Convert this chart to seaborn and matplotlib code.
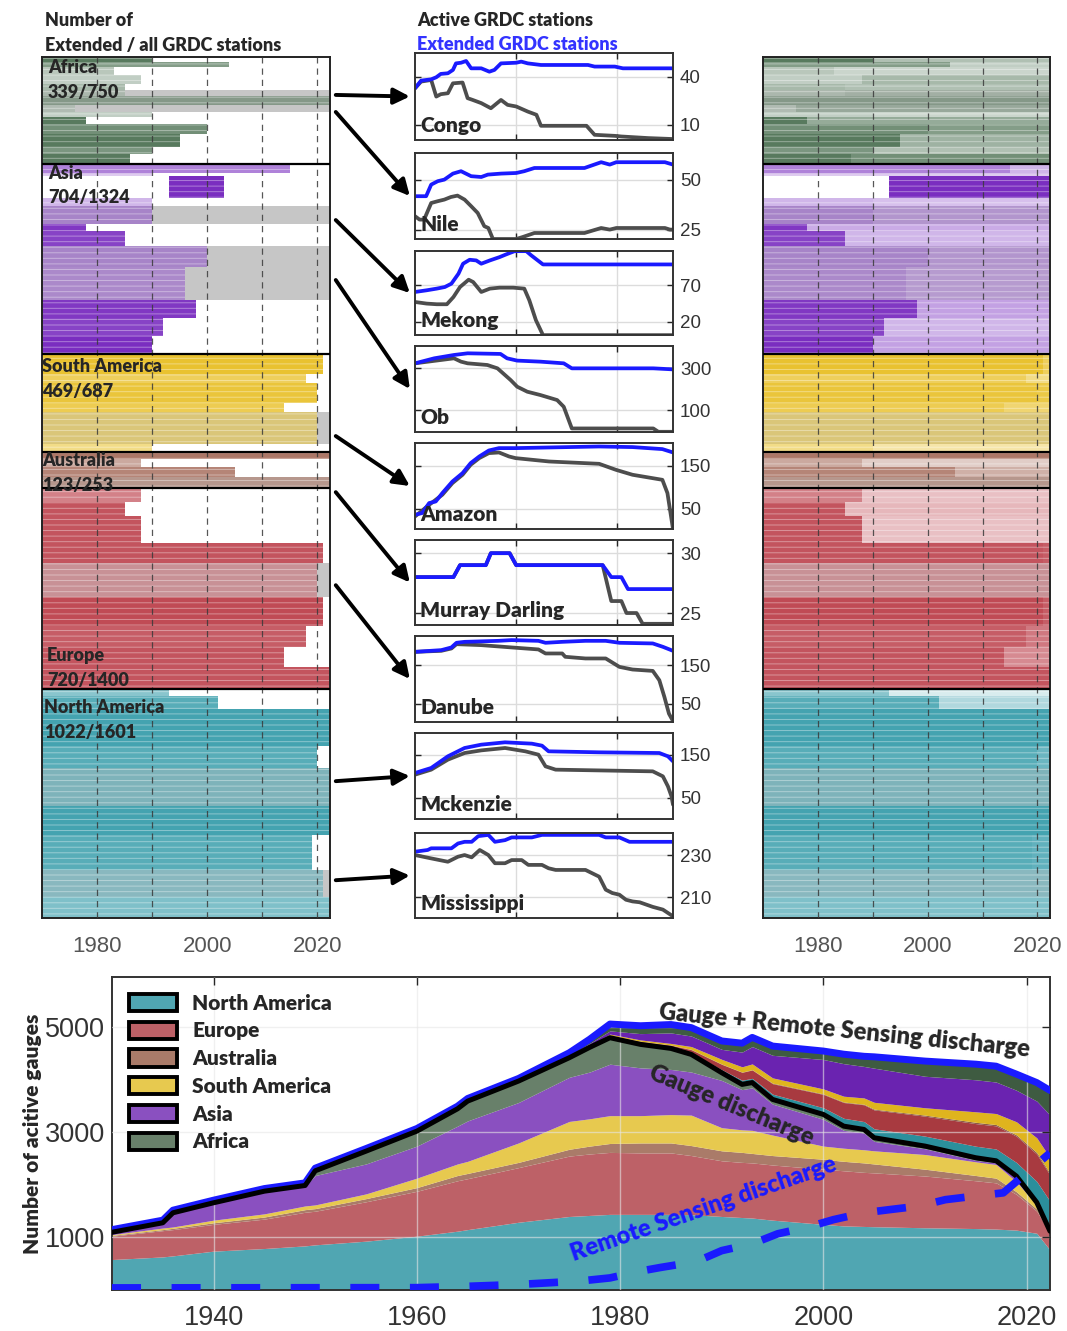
import numpy as np
import pandas as pd
import seaborn as sns
import matplotlib.pyplot as plt
from matplotlib.colors import to_rgb
from matplotlib.patches import Patch, ConnectionPatch

sns.set_theme(style="white")
plt.rcParams["font.family"] = ["Lato", "DejaVu Sans"]
plt.rcParams["hatch.linewidth"] = 0.7
TICKFONT = "Liberation Sans"
BOLD = "heavy"

# ---------------- data: bottom panel (number of active gauges) ----------------
YEARS = [1930, 1935, 1936, 1940, 1945, 1949, 1950, 1955, 1960, 1964, 1965, 1970,
         1975, 1977, 1979, 1982, 1985, 1987, 1990, 1992, 1993, 1995, 2000, 2002,
         2004, 2005, 2010, 2015, 2017, 2019, 2021, 2022.3]
CONTINENTS = ["North America", "Europe", "Australia", "South America", "Asia", "Africa"]

na_gauge = [580, 630, 650, 740, 790, 840, 860, 930, 1025, 1120, 1150, 1290, 1400, 1420, 1440, 1440,
            1440, 1435, 1400, 1380, 1370, 1330, 1250, 1220, 1210, 1205, 1185, 1170, 1160, 1140, 1080, 760]
eu_gauge = [445, 500, 500, 510, 560, 640, 640, 750, 855, 960, 970, 1040, 1150, 1170, 1180, 1170,
            1170, 1125, 1060, 1050, 1050, 1050, 1050, 1050, 1030, 1025, 985, 910, 880, 680, 420, 330]
au_gauge = [15, 20, 25, 30, 40, 50, 50, 60, 70, 100, 100, 100, 130, 150, 170, 190,
            190, 190, 190, 190, 180, 180, 190, 180, 180, 170, 130, 100, 90, 50, 40, 10]
sa_gauge = [15, 30, 25, 50, 60, 70, 70, 90, 180, 220, 230, 370, 530, 520, 530, 520,
            540, 580, 440, 430, 440, 390, 250, 250, 250, 250, 280, 260, 260, 190, 80, 10]
as_gauge = [35, 90, 260, 320, 420, 380, 560, 570, 610, 720, 770, 770, 840, 890, 980, 910,
            860, 820, 900, 765, 810, 590, 510, 340, 320, 180, 110, 30, 30, 70, 30, 5]
af_gauge = [10, 10, 10, 11, 12, 10, 90, 244, 285, 330, 377, 408, 373, 470, 504, 447,
            400, 336, 147, 100, 100, 89, 93, 80, 67, 69, 50, 48, 40, 38, 17, 5]

na_ext = [0, 0, 0, 0, 0, 0, 0, 0, 0, 0, 0, 0, 5, 10, 15, 20,
          20, 30, 60, 80, 80, 100, 127, 150, 150, 170, 190, 220, 225, 260, 400, 570]
eu_ext = [0, 0, 0, 0, 0, 0, 0, 0, 0, 0, 0, 0, 10, 15, 30, 35,
          40, 60, 100, 150, 160, 200, 254, 300, 320, 360, 380, 430, 440, 500, 520, 500]
au_ext = [0, 0, 0, 0, 0, 0, 0, 0, 0, 0, 0, 0, 0, 0, 5, 5,
          5, 5, 5, 5, 5, 10, 10, 10, 10, 15, 20, 25, 25, 25, 30, 30]
sa_ext = [0, 0, 0, 0, 0, 0, 0, 0, 0, 0, 0, 0, 10, 10, 20, 25,
          30, 55, 90, 100, 110, 100, 95, 110, 120, 130, 140, 200, 210, 250, 280, 300]
as_ext = [10, 10, 10, 10, 10, 10, 10, 10, 10, 10, 10, 10, 20, 40, 60, 120,
          200, 200, 190, 280, 330, 430, 560, 620, 600, 650, 600, 610, 600, 600, 700, 810]
af_ext = [40, 40, 40, 40, 40, 40, 40, 40, 40, 40, 40, 40, 50, 80, 130, 150,
          160, 160, 160, 170, 175, 176, 161, 180, 193, 216, 289, 297, 302, 307, 353, 470]

RS_YEARS = [1930, 1960, 1965, 1970, 1976, 1979, 1982, 1984, 1987.5, 1990, 1993, 1995.5,
            1998.5, 2001, 2004, 2006.5, 2009.5, 2012, 2015, 2017.7, 2020, 2022.3]
RS_COUNT = [40, 45, 70, 105, 170, 230, 360, 430, 540, 750, 880, 1070,
            1200, 1340, 1470, 1530, 1600, 1720, 1790, 1850, 2230, 2610]

# ---------------- data: station rasters (bands of stations) ----------------
N_EXTENDED = [339, 704, 469, 123, 720, 1022]
N_ALL = [750, 1324, 687, 253, 1400, 1601]
RASTER_ORDER = ["Africa", "Asia", "South America", "Australia", "Europe", "North America"]

africa_n = [35, 35, 59, 58, 47, 35, 63, 54, 35, 47, 70, 94, 47, 71]
africa_start = [1970] * 14
africa_end = [1990, 2004, 1983, 1988, 1985, 1985, 2022.3, 1976, 1990, 1978, 2000, 1995, 1990, 1986]
africa_tone = [0.95, 0.7, 0.4, 0.35, 0.5, 0.6, 1.0, 0.55, 0.35, 0.95, 0.8, 0.95, 0.75, 0.95]
africa_ext = [0.45, 0.35, 0.3, 0.5, 0.45, 0.7, 1.0, 0.8, 0.3, 0.6, 0.7, 0.55, 0.45, 0.8]
africa_grey = [0, 0, 0, 0, 0, 1, 1, 1, 0, 0, 0, 0, 0, 0]

asia_n = [58, 23, 151, 58, 128, 46, 104, 150, 232, 120, 130, 124]
asia_start = [1970, 1970, 1993, 1970, 1970, 1970, 1970, 1970, 1970, 1970, 1970, 1970]
asia_end = [2015, 1990, 2003, 1990, 1990, 1978, 1985, 2000, 1996, 1998, 1992, 1990]
asia_tone = [0.6, 0.3, 1.0, 0.35, 0.85, 0.95, 0.9, 0.85, 0.8, 0.95, 0.9, 1.0]
asia_ext = [0.35, 0.3, 1.0, 0.3, 0.7, 0.4, 0.35, 0.7, 0.65, 0.45, 0.35, 0.45]
asia_grey = [0, 0, 0, 0, 1, 0, 0, 1, 1, 0, 0, 0]

samer_n = [140, 60, 140, 63, 225, 59]
samer_start = [1970] * 6
samer_end = [2021, 2018, 2020, 2014, 2020, 1990]
samer_tone = [0.95, 0.75, 0.9, 0.8, 0.9, 0.55]
samer_ext = [0.75, 0.55, 0.85, 0.65, 0.9, 0.4]
samer_grey = [0, 0, 0, 0, 1, 0]

austr_n = [50, 51, 71, 81]
austr_start = [1970] * 4
austr_end = [2022.3, 1988, 2005, 2022.3]
austr_tone = [0.95, 0.6, 0.85, 1.0]
austr_ext = [0.9, 0.35, 0.55, 1.0]
austr_grey = [0, 0, 0, 1]

europe_n = [95, 95, 189, 142, 237, 200, 150, 142, 150]
europe_start = [1970] * 9
europe_end = [1988, 1985, 1988, 2021, 2020, 2021, 2018, 2014, 2022.3]
europe_tone = [0.7, 0.95, 0.95, 0.95, 0.85, 1.0, 0.9, 0.95, 0.95]
europe_ext = [0.35, 0.4, 0.35, 0.9, 0.85, 0.9, 0.75, 0.65, 0.9]
europe_grey = [0, 0, 0, 0, 1, 0, 0, 0, 0]

namer_n = [47, 94, 257, 152, 269, 200, 245, 188, 149]
namer_start = [1970] * 9
namer_end = [1993, 2002, 2022.3, 2020, 2022.3, 2022.3, 2019, 2021, 2022.3]
namer_tone = [0.6, 0.85, 0.95, 0.85, 0.95, 0.95, 0.85, 0.85, 0.65]
namer_ext = [0.2, 0.4, 0.95, 0.75, 0.95, 0.95, 0.8, 0.85, 0.65]
namer_grey = [0, 0, 0, 0, 1, 0, 0, 1, 0]

# ---------------- data: basins (active vs extended stations) ----------------
BASINS = ["Congo", "Nile", "Mekong", "Ob", "Amazon", "Murray Darling", "Danube", "Mckenzie", "Mississippi"]
BASIN_ROWS = [265, 384, 1139, 1558, 2648, 3040, 3690, 5059, 5751]
BASIN_TICKS = [[40, 10], [50, 25], [70, 20], [300, 100], [150, 50], [30, 25], [150, 50], [150, 50], [230, 210]]

congo_yr_ext = [1970, 1971.2, 1973.2, 1974.2, 1975.1, 1976.5, 1977.5, 1978.1, 1979.1, 1980.1, 1981.1, 1983.1,
                1984.7, 1985.7, 1987, 1990, 1991, 1992.3, 1994.9, 2004.2, 2005.5, 2009.5, 2011.1, 2021]
congo_ext = [32.9, 37.7, 38.5, 39.8, 41.9, 42.3, 44.4, 48.5, 48.9, 50, 45.4, 45.4,
             43.3, 44.4, 48.5, 48.9, 49.6, 48.5, 47.5, 47.5, 46.5, 46.5, 45.4, 45.4]
congo_yr_act = [1970, 1971.2, 1973.2, 1974.2, 1975.1, 1976.5, 1977.5, 1979.4, 1980.4, 1981.4, 1983.1, 1985,
                1987, 1988.3, 1990, 1992.3, 1994, 1994.9, 2003.9, 2005.5, 2009.5, 2010.8, 2016.1, 2021]
congo_act = [32.9, 37.1, 38.1, 27.7, 29.2, 29.8, 36, 36.5, 26.7, 25.6, 23.6, 20.4,
             25.6, 22.5, 21.5, 18.3, 16.3, 9.4, 9.4, 3.75, 3.1, 2.7, 1.7, 1.1]

nile_yr_ext = [1970, 1972.2, 1973.2, 1974.5, 1975.8, 1977.5, 1979.1, 1981.1, 1983.1, 1984.4, 1987, 1990,
               1991.6, 1993.6, 1994.9, 2003.5, 2006.8, 2008.5, 2009.8, 2019.4, 2021]
nile_ext = [41.7, 41.7, 47.5, 49.2, 50, 53, 54.2, 51.7, 51.3, 52.5, 53, 53.3,
            54.2, 55.8, 55.8, 55.8, 58.7, 57.5, 58.7, 58.7, 57.5]
nile_yr_act = [1970, 1970.9, 1971.8, 1973.2, 1974.5, 1975.8, 1977.1, 1978.4, 1979.8, 1981.1, 1982.4, 1983.7,
               1984.5, 1985.4, 1990, 1991.3, 1993.6, 2003.5, 2006.8, 2008.5, 2009.8, 2019.4, 2020.4, 2021]
nile_act = [31.7, 30, 30, 38.3, 39.2, 40, 41.3, 42, 40, 36.7, 33.3, 26.7,
            25.8, 20.3, 20.3, 21.3, 23.3, 23.3, 25.8, 25, 25.8, 25.8, 25, 25]

mekong_yr_ext = [1970, 1972.3, 1974.3, 1975.9, 1977.2, 1978.6, 1979.5, 1980.8, 1982.1, 1983.1, 1984.8, 1986.7,
                 1988, 1989.7, 1992, 1993, 1995.3, 2021]
mekong_ext = [60.9, 63.2, 65.5, 67.7, 72.3, 86, 99.6, 105, 104.1, 99.6, 104.1, 108.6,
              112.3, 116.8, 116.8, 110.9, 98.6, 98.6]
mekong_yr_act = [1970, 1972.3, 1974.3, 1976.3, 1977.6, 1978.9, 1980.6, 1981.5, 1983.1, 1984.8, 1986.7, 1989.4,
                 1991.6, 1992.6, 1993.9, 1995.3, 2021]
mekong_act = [47.2, 45, 44.1, 44.1, 54, 67.7, 77.7, 74.5, 60.9, 65.5, 66.8, 66.8,
              65.5, 49.5, 22.3, 1.8, 1.8]

ob_yr_ext = [1970, 1973.8, 1977.7, 1980.4, 1986.9, 1988.2, 1990.2, 1994.8, 1999.4, 2001, 2017.1, 2021]
ob_ext = [324, 348, 364, 372, 369, 348, 337, 332, 324, 300, 300, 295]
ob_yr_act = [1970, 1977.7, 1979.1, 1980.4, 1984.3, 1986.3, 1988.9, 1990.2, 1992.2, 1994.8, 1998.1, 1999.4,
             2001, 2017.1, 2018.1, 2021]
ob_act = [324, 348, 332, 324, 316, 300, 244, 212, 188, 172, 148, 116,
          12, 12, -4, -4]

amazon_yr_ext = [1970, 1971.4, 1972.8, 1974.1, 1975.4, 1977.4, 1979.4, 1981, 1982.7, 1984.6, 1986.6, 1989.9,
                 2006.4, 2013, 2018.9, 2021]
amazon_ext = [36, 40, 63.3, 67, 86.5, 113.5, 133, 156.2, 171.6, 185.6, 191.1, 191.1,
              194.9, 193.5, 188.8, 181]
amazon_yr_act = [1970, 1972.8, 1975.4, 1977.4, 1979.4, 1981, 1982.7, 1984.6, 1986.6, 1988.6, 1989.9, 1996.5,
                 2006.4, 2009.7, 2013, 2018.9, 2019.9, 2021]
amazon_act = [32.1, 59.3, 82.6, 109.8, 129.1, 152.3, 167.8, 179.5, 181, 171.6, 167.8, 160,
              154.6, 140.7, 129.1, 117.4, 86.5, 3]

murray_yr_ext = [1970, 1977.6, 1978.9, 1984, 1985, 1988.7, 1990, 2007.1, 2008.8, 2010.8, 2012.1, 2021]
murray_ext = [28, 28, 29, 29, 30, 30, 29, 29, 28, 28, 27, 27]
murray_yr_act = [1970, 1977.6, 1978.9, 1984, 1985, 1988.7, 1990, 2007.1, 2008.8, 2010.8, 2011.8, 2013.8,
                 2015, 2021]
murray_act = [28, 28, 29, 29, 30, 30, 29, 29, 26, 26, 25, 25, 24.1, 24.1]

danube_yr_ext = [1970, 1975.2, 1977.2, 1978.2, 1979.8, 1986.5, 1989.1, 1994.4, 1995.8, 1999.1, 2003.7, 2007.7,
                 2010.4, 2017, 2019, 2021]
danube_ext = [184.7, 189.2, 196.2, 208.3, 210.8, 213.4, 215.3, 213.4, 208.3, 210.8, 213.4, 213.4,
              208.3, 206.6, 197.8, 187.4]
danube_yr_act = [1970, 1975.2, 1977.2, 1978.2, 1983.1, 1989.1, 1994.4, 1995.8, 1999.1, 1999.7, 2003.7, 2007.7,
                 2010.4, 2013, 2017, 2018.3, 2019.3, 2020.2, 2021]
danube_act = [184.7, 187.4, 193.5, 204.7, 202.2, 196.2, 191, 180.5, 180.5, 171.8, 167.5, 167.5,
              145.6, 138.7, 135.1, 110.8, 67.2, 23.7, 4.4]

mckenzie_yr_ext = [1970, 1973.2, 1976.5, 1979.8, 1983.1, 1987.8, 1993.1, 1995.1, 1996.4, 2006.4, 2018.3, 2020, 2021]
mckenzie_ext = [107.7, 119.3, 146.2, 165.4, 173.1, 178.5, 175.4, 170.8, 157.7, 155.4, 153.8, 146.2, 134.6]
mckenzie_yr_act = [1970, 1973.2, 1976.5, 1979.8, 1983.1, 1987.8, 1991.8, 1994.4, 1995.8, 1997.8, 2017, 2019,
                   2020, 2020.7, 2021]
mckenzie_act = [103.8, 115.4, 138.5, 153.8, 159.9, 165.4, 157.7, 150, 123, 115.4, 111.5, 100,
                76.8, 53.8, 34.6]

miss_yr_ext = [1970, 1972.5, 1973.2, 1977.2, 1978.5, 1979.8, 1981.2, 1982.5, 1984.5, 1985.8, 1987.8, 1989.1,
               1993.1, 1995.1, 2006.4, 2007.7, 2010.4, 2012.4, 2021]
miss_ext = [231.6, 232.4, 233.2, 233.2, 235.5, 236.3, 236.3, 239, 239.6, 236.3, 237.1, 238.4,
            238.4, 239.6, 239.6, 238.4, 238.4, 236.3, 236.3]
miss_yr_act = [1970, 1973.2, 1976.5, 1978.5, 1979.8, 1981.2, 1982.8, 1984.5, 1985.8, 1987.8, 1989.1, 1991.1,
               1992.4, 1995.1, 1996.4, 1997.8, 2003.7, 2006.4, 2007.7, 2009, 2010.4, 2011.7, 2013, 2014.4,
               2017, 2019, 2021]
miss_act = [230, 228.4, 226.8, 229.2, 230, 228.9, 232.4, 230, 226.1, 226.1, 227.6, 227.6,
            225.3, 225.3, 223.7, 222.9, 222.9, 219.7, 213.5, 211.9, 211.1, 208.7, 207.9, 207.5,
            205.3, 204, 200.8]

# ---------------- styling ----------------
GAUGE_COLORS = ["#50a6b2", "#bd6167", "#aa7b69", "#e7c94f", "#8a50c0", "#68806a"]
EXT_COLORS = ["#2b8f9c", "#a83a40", "#8c5a47", "#dfb41e", "#6a23b0", "#3e5b41"]
RASTER_COLORS = ["#4f7355", "#7a2ec0", "#e8bf25", "#a8705f", "#c04b55", "#3a9eac"]
GREY = "#c6c6c6"
BLUE = "#1a1aff"

RASTER = [
    (africa_n, africa_start, africa_end, africa_tone, africa_ext, africa_grey),
    (asia_n, asia_start, asia_end, asia_tone, asia_ext, asia_grey),
    (samer_n, samer_start, samer_end, samer_tone, samer_ext, samer_grey),
    (austr_n, austr_start, austr_end, austr_tone, austr_ext, austr_grey),
    (europe_n, europe_start, europe_end, europe_tone, europe_ext, europe_grey),
    (namer_n, namer_start, namer_end, namer_tone, namer_ext, namer_grey),
]
BASIN_DATA = [
    (congo_yr_act, congo_act, congo_yr_ext, congo_ext),
    (nile_yr_act, nile_act, nile_yr_ext, nile_ext),
    (mekong_yr_act, mekong_act, mekong_yr_ext, mekong_ext),
    (ob_yr_act, ob_act, ob_yr_ext, ob_ext),
    (amazon_yr_act, amazon_act, amazon_yr_ext, amazon_ext),
    (murray_yr_act, murray_act, murray_yr_ext, murray_ext),
    (danube_yr_act, danube_act, danube_yr_ext, danube_ext),
    (mckenzie_yr_act, mckenzie_act, mckenzie_yr_ext, mckenzie_ext),
    (miss_yr_act, miss_act, miss_yr_ext, miss_ext),
]
BASIN_YLIM = [(0.5, 55), (20.3, 63.3), (2, 117), (-5, 407), (3, 203), (24, 31.1), (2, 226), (1.5, 200), (200, 240.5)]

W, H = 1067, 1331


def frac(x0, y0, x1, y1):
    return [x0 / W, 1 - y1 / H, (x1 - x0) / W, (y1 - y0) / H]


def shade(base, tone, grey):
    c = tone * np.array(to_rgb(base)) + (1 - tone) * np.ones(3)
    if grey:
        c = 0.55 * c + 0.45 * np.array(to_rgb(GREY))
    return c


def draw_raster(ax, extended):
    top = 0
    xmax = 2022.3
    streak = (1, 1, 1, 0.38)
    for (n, start, end, tone, ext, grey), base, total in zip(RASTER, RASTER_COLORS, N_ALL):
        n = np.array(n, float)
        centers = top + np.cumsum(n) - n / 2
        start = np.array(start, float)
        end = np.array(end, float)
        cols = [shade(base, t, g) for t, g in zip(tone, grey)]
        ax.barh(centers, end - start, left=start, height=n, color=cols,
                edgecolor=streak, linewidth=0, hatch="---")
        if extended:
            ecols = [shade(base, t, g) for t, g in zip(ext, grey)]
            ax.barh(centers, xmax - end, left=end, height=n, color=ecols,
                    edgecolor=streak, linewidth=0, hatch="---")
        else:
            g = np.array(grey, bool)
            ax.barh(centers[g], xmax - end[g], left=end[g], height=n[g], color=GREY, linewidth=0)
            ax.barh(centers[g], start[g] - 1970, left=1970, height=n[g], color=GREY, linewidth=0)
        top += total
        if top < sum(N_ALL):
            ax.axhline(top, color="black", lw=1.6, zorder=4)
    ax.set_xlim(1970, xmax)
    ax.set_ylim(sum(N_ALL), 0)
    ax.set_yticks([])
    ax.set_xticks([1980, 2000, 2020])
    ax.set_xticks([1990, 2010], minor=True)
    ax.set_axisbelow(False)
    ax.grid(axis="x", which="both", color="#3a3a3a", lw=0.9, ls=(0, (5, 4)), alpha=0.85)
    ax.tick_params(axis="x", which="both", length=0, labelsize=16, labelcolor="#555555", pad=13)
    for lab in ax.get_xticklabels():
        lab.set_fontfamily(TICKFONT)
    for s in ax.spines.values():
        s.set_color("#222222")
        s.set_linewidth(1.4)


fig = plt.figure(figsize=(W / 100, H / 100), dpi=100)

# ---------------- left and right rasters ----------------
ax_left = fig.add_axes(frac(42, 57, 330, 918))
ax_right = fig.add_axes(frac(763, 57, 1050, 918))
draw_raster(ax_left, extended=False)
draw_raster(ax_right, extended=True)

label_rows = [(70, 245), (811, 985), (2159, 2334), (2816, 2991), (4179, 4354), (4542, 4717)]
label_x = [1971.1, 1971.1, 1970.0, 1970.0, 1970.9, 1970.4]
for name, ne, na, (r1, r2), lx in zip(RASTER_ORDER, N_EXTENDED, N_ALL, label_rows, label_x):
    ax_left.text(lx, r1, name, fontsize=13, fontweight=BOLD, va="center", ha="left", zorder=6)
    ax_left.text(lx, r2, f"{ne}/{na}", fontsize=13, fontweight=BOLD, va="center", ha="left", zorder=6)

fig.text(45 / W, 1 - 20 / H, "Number of", fontsize=13, fontweight=BOLD, va="center")
fig.text(45 / W, 1 - 45 / H, "Extended / all GRDC stations", fontsize=13, fontweight=BOLD, va="center")
fig.text(417 / W, 1 - 20 / H, "Active GRDC stations", fontsize=13, fontweight=BOLD, va="center")
fig.text(417 / W, 1 - 45 / H, "Extended GRDC stations", fontsize=13, fontweight=BOLD,
         va="center", color="#3333ff")

# ---------------- middle basin panels ----------------
panel_y = [(53, 140), (153, 239), (251, 335), (346, 432), (443, 529),
           (540, 625), (636, 722), (733, 819), (833, 918)]
for name, (ya, yb), (yr_a, act, yr_e, ext), ticks, ylim, row in zip(
        BASINS, panel_y, BASIN_DATA, BASIN_TICKS, BASIN_YLIM, BASIN_ROWS):
    ax = fig.add_axes(frac(415, ya, 673, yb))
    df = pd.concat([
        pd.DataFrame({"year": yr_a, "stations": act, "kind": "active"}),
        pd.DataFrame({"year": yr_e, "stations": ext, "kind": "extended"}),
    ])
    sns.lineplot(data=df, x="year", y="stations", hue="kind", hue_order=["active", "extended"],
                 palette={"active": "#4d4d4d", "extended": BLUE}, linewidth=2.7,
                 legend=False, ax=ax, estimator=None, sort=False)
    ax.set_xlim(1970, 2021)
    ax.set_ylim(*ylim)
    ax.set_xticks([1990, 2010])
    ax.set_yticks(ticks)
    ax.set_xticklabels([])
    ax.set_xlabel("")
    ax.set_ylabel("")
    ax.grid(True, color="#dcdcdc", lw=1)
    ax.yaxis.tick_right()
    ax.tick_params(axis="y", left=True, right=True, labelleft=False, labelright=True,
                   direction="in", length=4, width=1, labelsize=13.5, labelcolor="#333333", pad=5)
    ax.tick_params(axis="x", top=True, bottom=True, direction="in", length=4, width=1)
    for lab in ax.get_yticklabels():
        lab.set_fontfamily(TICKFONT)
    for s in ax.spines.values():
        s.set_color("#333333")
        s.set_linewidth(1.4)
    ax.text(0.02, 0.17, name, transform=ax.transAxes, fontsize=15, fontweight=BOLD,
            va="center", ha="left", zorder=6)

    con = ConnectionPatch(xyA=(1.02, row), coordsA=ax_left.get_yaxis_transform(),
                          xyB=(-0.02, 0.5), coordsB=ax.transAxes,
                          arrowstyle="-|>", mutation_scale=24, lw=2.8, color="black")
    fig.add_artist(con)

# ---------------- bottom stacked area ----------------
axb = fig.add_axes(frac(112, 977, 1050, 1290))
gauge = [na_gauge, eu_gauge, au_gauge, sa_gauge, as_gauge, af_gauge]
ext = [na_ext, eu_ext, au_ext, sa_ext, as_ext, af_ext]
axb.stackplot(YEARS, *gauge, *ext, colors=GAUGE_COLORS + EXT_COLORS, linewidth=0)

gauge_total = np.sum(gauge, axis=0)
all_total = gauge_total + np.sum(ext, axis=0)
sns.lineplot(x=YEARS, y=all_total, color=BLUE, linewidth=5, ax=axb, zorder=5)
sns.lineplot(x=YEARS, y=gauge_total, color="black", linewidth=3.6, ax=axb, zorder=6)
sns.lineplot(x=RS_YEARS, y=RS_COUNT, color=BLUE, linewidth=5.5, linestyle=(0, (3.8, 4)), ax=axb, zorder=6)

axb.set_xlim(1930, 2022.3)
axb.set_ylim(0, 5960)
axb.set_xticks([1940, 1960, 1980, 2000, 2020])
axb.set_yticks([1000, 3000, 5000])
axb.set_axisbelow(False)
axb.grid(True, color="#e6e6e6", lw=1, alpha=0.6)
axb.tick_params(direction="in", top=True, right=True, length=6, width=1,
                labelsize=19.5, labelcolor="#333333")
axb.tick_params(axis="x", pad=11)
axb.tick_params(axis="y", pad=5)
for lab in axb.get_xticklabels() + axb.get_yticklabels():
    lab.set_fontfamily(TICKFONT)
for s in axb.spines.values():
    s.set_color("#333333")
    s.set_linewidth(1.4)
axb.set_ylabel("Number of acitive gauges", fontsize=15, fontweight=BOLD, labelpad=2)

handles = [Patch(facecolor=c, edgecolor="black", linewidth=2.8, label=l)
           for c, l in zip(GAUGE_COLORS, CONTINENTS)]
axb.legend(handles=handles, loc="upper left", frameon=False, prop={"size": 15, "weight": BOLD},
           handlelength=2.3, handleheight=0.9, labelspacing=0.42, handletextpad=0.75,
           borderaxespad=0.4, bbox_to_anchor=(0.0, 1.0))

axb.text(2002.1, 4943, "Gauge + Remote Sensing discharge", fontsize=17, fontweight=BOLD,
         rotation=-5.8, ha="center", va="center", rotation_mode="anchor", zorder=8)
axb.text(1991.0, 3515, "Gauge discharge", fontsize=17, fontweight=BOLD,
         rotation=-22.5, ha="center", va="center", rotation_mode="anchor", zorder=8)
axb.text(1988.2, 1533, "Remote Sensing discharge", fontsize=17, fontweight=BOLD, color=BLUE,
         rotation=19, ha="center", va="center", rotation_mode="anchor", zorder=8)

fig.savefig("out.png", dpi=100)
